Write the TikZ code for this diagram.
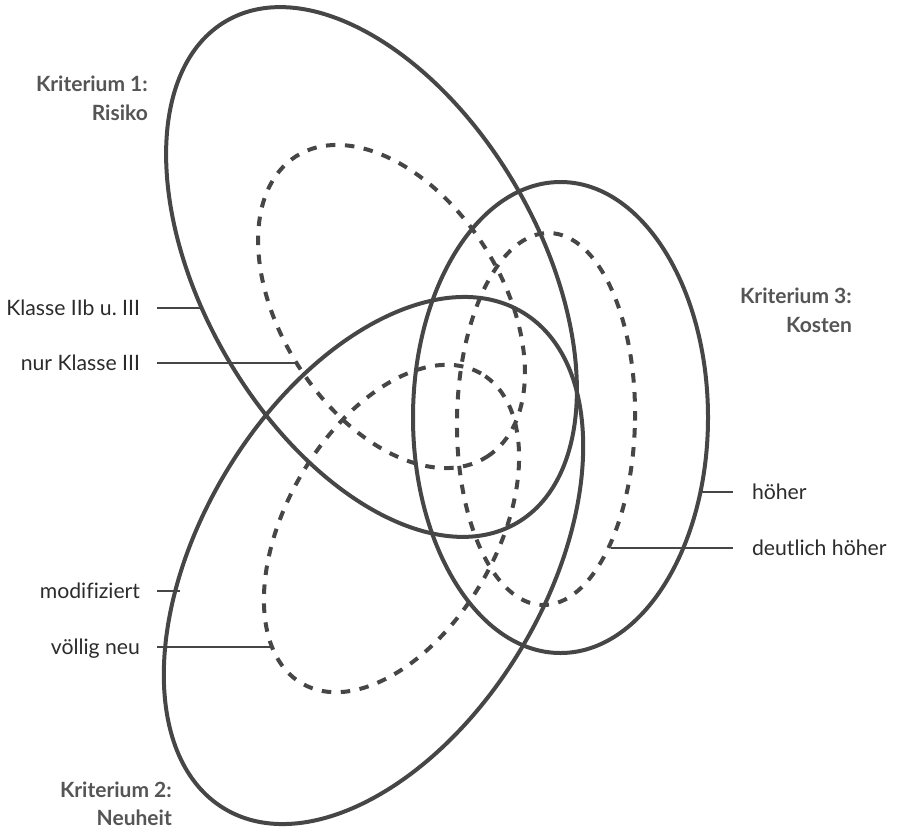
\documentclass[tikz,border=0pt]{standalone}
\usepackage{fontspec}
\setmainfont{Lato}[Ligatures=NoCommon]
\usetikzlibrary{shapes.geometric}
\definecolor{ln}{HTML}{464646}
\definecolor{txt}{HTML}{2B2B2B}
\definecolor{hd}{HTML}{555555}
\begin{document}
\begin{tikzpicture}[x=1pt,y=-1pt,
  setbox/.style={ellipse, draw=ln, line width=4pt, inner sep=0pt, outer sep=0pt},
  subbox/.style={setbox, dash pattern=on 9.5pt off 9.5pt},
  lbl/.style={font=\fontsize{21.2}{26}\selectfont, text=txt, inner ysep=0pt, outer sep=0pt, text height=15.5pt, text depth=0pt},
  lleft/.style={lbl, anchor=east, inner xsep=17pt},
  lright/.style={lbl, anchor=west, inner xsep=19pt},
  hdl/.style={font=\bfseries\fontsize{21}{26}\selectfont, text=hd, inner sep=0pt, anchor=base east},
  leader/.style={draw=ln, line width=1.6pt}]
\useasboundingbox (0,0) rectangle (899,828);
% main sets
\node[setbox, minimum width=580pt, minimum height=336pt, rotate=-60] (risiko) at (371.5,272) {};
\node[setbox, minimum width=579pt, minimum height=344pt, rotate=59] (neuheit) at (373.5,560.5) {};
\node[setbox, minimum width=295pt, minimum height=471pt] (kosten) at (560.5,417.5) {};
% inner (dashed) sets
\node[subbox, minimum width=356pt, minimum height=221pt, rotate=-57.6] (risikoin) at (391.5,306.5) {};
\node[subbox, minimum width=358pt, minimum height=210pt, rotate=60] (neuheitin) at (391.5,528.5) {};
\node[subbox, minimum width=178pt, minimum height=372pt, rotate=-1] (kostenin) at (546,419) {};
% headings
\node[hdl] (k1a) at (148,91) {Kriterium 1:};
\node[hdl] (k1b) at (148,120) {Risiko};
\node[hdl] (k3a) at (852,303) {Kriterium 3:};
\node[hdl] (k3b) at (852,332) {Kosten};
\node[hdl] (k2a) at (172,797) {Kriterium 2:};
\node[hdl] (k2b) at (172,825) {Neuheit};
% labels with leaders
\node[lleft] (la) at (157,308) {Klasse IIb u.\ III};
\coordinate (ea) at (200,308);
\draw[leader] (la.east) -- (ea);
\node[lleft] (lb) at (157,363) {nur Klasse III};
\coordinate (eb) at (297,363);
\draw[leader] (lb.east) -- (eb);
\node[lleft] (lc) at (157,591) {modifiziert};
\coordinate (ec) at (180,591);
\draw[leader] (lc.east) -- (ec);
\node[lleft] (ld) at (157,647) {völlig neu};
\coordinate (ed) at (273,647);
\draw[leader] (ld.east) -- (ed);
\node[lright] (le) at (733,492) {höher};
\coordinate (ee) at (702,492);
\draw[leader] (ee) -- (le.west);
\node[lright] (lf) at (733,548) {deutlich höher};
\coordinate (ef) at (611,548);
\draw[leader] (ef) -- (lf.west);
\end{tikzpicture}
\end{document}
